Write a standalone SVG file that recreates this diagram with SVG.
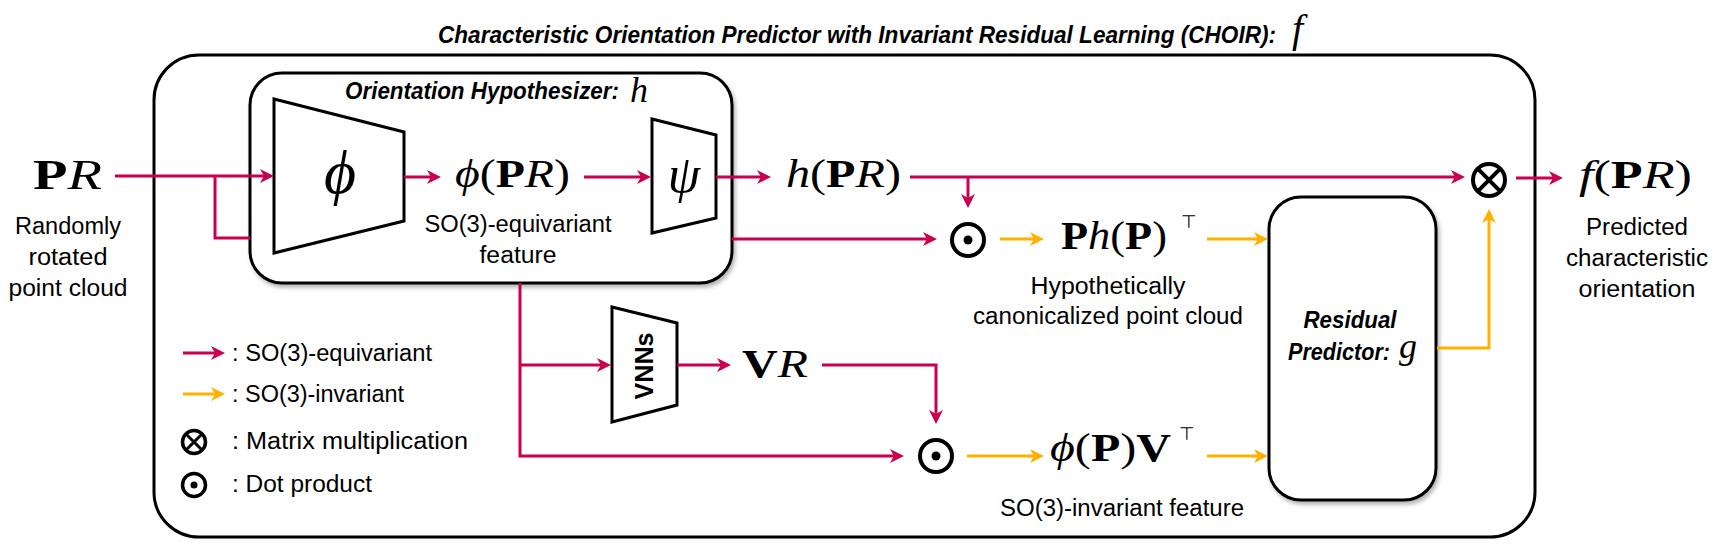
<svg xmlns="http://www.w3.org/2000/svg" width="1730" height="546" viewBox="0 0 1730 546">
<style>
.box{fill:#fff;stroke:#000;stroke-width:3}
.trap{fill:#fff;stroke:#000;stroke-width:3;stroke-linejoin:miter}
.red{fill:none;stroke:#C8004F;stroke-width:3}
.org{fill:none;stroke:#FFB000;stroke-width:3}
.op{fill:none;stroke:#000;stroke-width:4}
.lbl{font-family:"Liberation Sans Narrow","Liberation Sans",Arial,sans-serif;font-size:23px;fill:#000}
.bi{font-family:"Liberation Sans Narrow","Liberation Sans",Arial,sans-serif;font-size:24px;font-weight:bold;font-style:italic;fill:#000}
.m{font-family:"Liberation Serif","DejaVu Serif",serif;font-size:40px;fill:#000}
.b{font-weight:bold;font-style:normal}
.i{font-style:italic}
.sup{font-family:"DejaVu Sans",sans-serif;font-size:18px}
</style>
<defs>
<marker id="ar" markerUnits="userSpaceOnUse" markerWidth="16" markerHeight="14" refX="6" refY="7" orient="auto"><path d="M0,0 L14,7 L0,14 L4,7 z" fill="#C8004F"/></marker>
<marker id="ao" markerUnits="userSpaceOnUse" markerWidth="16" markerHeight="14" refX="6" refY="7" orient="auto"><path d="M0,0 L14,7 L0,14 L4,7 z" fill="#FFB000"/></marker>
<filter id="sh" x="-10%" y="-10%" width="120%" height="120%"><feDropShadow dx="2" dy="3" stdDeviation="2" flood-color="#000" flood-opacity="0.3"/></filter>
</defs>

<text class="bi" x="438" y="43" textLength="838" lengthAdjust="spacingAndGlyphs">Characteristic Orientation Predictor with Invariant Residual Learning (CHOIR):</text>
<text class="m i" x="1292" y="42">f</text>

<g id="outer"><rect class="box" x="154" y="55" width="1381" height="482" rx="45"/></g>

<g id="hypothesizer">
<rect class="box" x="250" y="73" width="482" height="210" rx="32" filter="url(#sh)"/>
<text class="bi" x="345" y="99" textLength="274" lengthAdjust="spacingAndGlyphs">Orientation Hypothesizer:</text>
<text class="m i" x="630" y="102" style="font-size:36px">h</text>
</g>

<g id="phi">
<polygon class="trap" points="274,99 404,132 404,221 274,253"/>
<text class="m i" x="340" y="193" style="font-size:62px" text-anchor="middle">ϕ</text>
</g>

<g id="psi">
<polygon class="trap" points="652,119 716,135 716,218 652,233"/>
<text class="m i" x="684" y="192" style="font-size:52px" text-anchor="middle">ψ</text>
</g>

<g id="vnns">
<polygon class="trap" points="612,307 677,323 677,405 612,422"/>
<text transform="translate(653,366) rotate(-90)" x="0" y="0" text-anchor="middle" font-family="Liberation Sans,Arial,sans-serif" font-weight="bold" font-size="25" textLength="67" lengthAdjust="spacingAndGlyphs">VNNs</text>
</g>

<g id="residual">
<rect class="box" x="1269" y="197" width="167" height="303" rx="32" filter="url(#sh)"/>
<text class="bi" x="1350" y="328" text-anchor="middle" textLength="93" lengthAdjust="spacingAndGlyphs">Residual</text>
<text class="bi" x="1288" y="360" textLength="102" lengthAdjust="spacingAndGlyphs">Predictor:</text>
<text class="m i" x="1399" y="358" style="font-size:36px">g</text>
</g>

<g id="matmul"><circle class="op" cx="1489" cy="180" r="16"/><path class="op" d="M1477.7,168.7 L1500.3,191.3 M1500.3,168.7 L1477.7,191.3" stroke-width="3.5"/></g>
<g id="dot1"><circle class="op" cx="968" cy="240" r="16"/><circle cx="968" cy="240" r="4.5" fill="#000"/></g>
<g id="dot2"><circle class="op" cx="936" cy="456" r="16"/><circle cx="936" cy="456" r="4.5" fill="#000"/></g>

<g id="input">
<text class="m" x="33" y="189" style="font-size:43px" textLength="69" lengthAdjust="spacingAndGlyphs"><tspan class="b">P</tspan><tspan class="i">R</tspan></text>
<text class="lbl" x="68" y="234" text-anchor="middle" textLength="106" lengthAdjust="spacingAndGlyphs">Randomly</text>
<text class="lbl" x="68" y="265" text-anchor="middle" textLength="79" lengthAdjust="spacingAndGlyphs">rotated</text>
<text class="lbl" x="68" y="296" text-anchor="middle" textLength="119" lengthAdjust="spacingAndGlyphs">point cloud</text>
</g>

<g id="phiPR">
<text class="m" x="455" y="187" textLength="115" lengthAdjust="spacingAndGlyphs"><tspan class="i">ϕ</tspan>(<tspan class="b">P</tspan><tspan class="i">R</tspan>)</text>
<text class="lbl" x="518" y="232" text-anchor="middle" textLength="187" lengthAdjust="spacingAndGlyphs">SO(3)-equivariant</text>
<text class="lbl" x="518" y="263" text-anchor="middle" textLength="77" lengthAdjust="spacingAndGlyphs">feature</text>
</g>

<g id="hPR"><text class="m" x="786" y="187" textLength="115" lengthAdjust="spacingAndGlyphs"><tspan class="i">h</tspan>(<tspan class="b">P</tspan><tspan class="i">R</tspan>)</text></g>

<g id="output">
<text class="m" x="1579" y="188" textLength="113" lengthAdjust="spacingAndGlyphs"><tspan class="i">f</tspan>(<tspan class="b">P</tspan><tspan class="i">R</tspan>)</text>
<text class="lbl" x="1637" y="235" text-anchor="middle" textLength="102" lengthAdjust="spacingAndGlyphs">Predicted</text>
<text class="lbl" x="1637" y="266" text-anchor="middle" textLength="142" lengthAdjust="spacingAndGlyphs">characteristic</text>
<text class="lbl" x="1637" y="297" text-anchor="middle" textLength="117" lengthAdjust="spacingAndGlyphs">orientation</text>
</g>

<g id="canon">
<text class="m" x="1061" y="249" textLength="106" lengthAdjust="spacingAndGlyphs"><tspan class="b">P</tspan><tspan class="i">h</tspan>(<tspan class="b">P</tspan>)</text>
<text class="sup" x="1181" y="228">⊤</text>
<text class="lbl" x="1108" y="294" text-anchor="middle" textLength="155" lengthAdjust="spacingAndGlyphs">Hypothetically</text>
<text class="lbl" x="1108" y="324" text-anchor="middle" textLength="270" lengthAdjust="spacingAndGlyphs">canonicalized point cloud</text>
</g>

<g id="VR"><text class="m" x="742" y="377" textLength="66" lengthAdjust="spacingAndGlyphs"><tspan class="b">V</tspan><tspan class="i">R</tspan></text></g>

<g id="invfeat">
<text class="m" x="1050" y="461" textLength="121" lengthAdjust="spacingAndGlyphs"><tspan class="i">ϕ</tspan>(<tspan class="b">P</tspan>)<tspan class="b">V</tspan></text>
<text class="sup" x="1179" y="440">⊤</text>
<text class="lbl" x="1122" y="516" text-anchor="middle" textLength="244" lengthAdjust="spacingAndGlyphs">SO(3)-invariant feature</text>
</g>

<g id="legend">
<text class="lbl" x="232" y="361" textLength="200" lengthAdjust="spacingAndGlyphs">: SO(3)-equivariant</text>
<text class="lbl" x="232" y="402" textLength="172" lengthAdjust="spacingAndGlyphs">: SO(3)-invariant</text>
<circle cx="194" cy="442" r="11.5" fill="none" stroke="#000" stroke-width="3.5"/>
<path d="M186,434 L202,450 M202,434 L186,450" stroke="#000" stroke-width="3"/>
<text class="lbl" x="232" y="449" textLength="236" lengthAdjust="spacingAndGlyphs">: Matrix multiplication</text>
<circle cx="194" cy="485" r="11.5" fill="none" stroke="#000" stroke-width="3.5"/>
<circle cx="194" cy="485" r="3.5" fill="#000"/>
<text class="lbl" x="232" y="492" textLength="140" lengthAdjust="spacingAndGlyphs">: Dot product</text>
</g>

<g id="connectors">
<path class="red" d="M115,176 H266" marker-end="url(#ar)"/>
<path class="red" d="M215,176 V238 H250"/>
<path class="red" d="M404,177 H433" marker-end="url(#ar)"/>
<path class="red" d="M584,177 H643" marker-end="url(#ar)"/>
<path class="red" d="M716,177 H763" marker-end="url(#ar)"/>
<path class="red" d="M910,177 H1457" marker-end="url(#ar)"/>
<path class="red" d="M968,177 V200" marker-end="url(#ar)"/>
<path class="red" d="M732,239 H929" marker-end="url(#ar)"/>
<path class="red" d="M1516,178 H1555" marker-end="url(#ar)"/>
<path class="red" d="M520,283 V456 H896" marker-end="url(#ar)"/>
<path class="red" d="M520,365 H603" marker-end="url(#ar)"/>
<path class="red" d="M677,365 H723" marker-end="url(#ar)"/>
<path class="red" d="M822,365 H936 V416" marker-end="url(#ar)"/>
<path class="org" d="M1000,239 H1036" marker-end="url(#ao)"/>
<path class="org" d="M1207,239 H1260" marker-end="url(#ao)"/>
<path class="org" d="M967,456 H1036" marker-end="url(#ao)"/>
<path class="org" d="M1207,456 H1260" marker-end="url(#ao)"/>
<path class="org" d="M1437,348 H1489 V217" marker-end="url(#ao)"/>
<path class="red" d="M183,353 H217" marker-end="url(#ar)"/>
<path class="org" d="M183,394 H217" marker-end="url(#ao)"/>
</g>
</svg>
